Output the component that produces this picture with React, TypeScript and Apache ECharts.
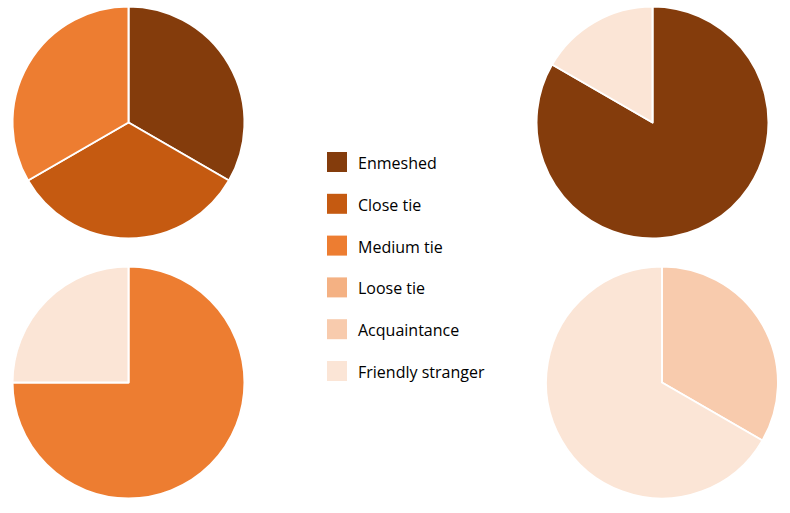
import React, { useEffect, useRef } from "react";
import * as echarts from "echarts";

const categories = ["Enmeshed", "Close tie", "Medium tie", "Loose tie", "Acquaintance", "Friendly stranger"];
const colors = ["#843C0C", "#C55A11", "#ED7D31", "#F4B183", "#F8CBAD", "#FBE5D6"];

// Each pie: values per category (in category order)
const pieTopLeft = [1, 1, 1, 0, 0, 0];
const pieTopRight = [5, 0, 0, 0, 0, 1];
const pieBottomLeft = [0, 0, 3, 0, 0, 1];
const pieBottomRight = [0, 0, 0, 0, 1, 2];

export default function App() {
  const ref = useRef<HTMLDivElement>(null);
  useEffect(() => {
    if (!ref.current) return;
    const chart = echarts.init(ref.current, null, { renderer: "svg" });
    const makePie = (vals: number[], center: [number, number]) => ({
      type: "pie",
      center,
      radius: 116,
      startAngle: 90,
      clockwise: true,
      label: { show: false },
      labelLine: { show: false },
      emphasis: { disabled: true },
      silent: true,
      itemStyle: { borderColor: "#ffffff", borderWidth: 2 },
      data: categories
        .map((c, i) => ({ name: c, value: vals[i], itemStyle: { color: colors[i] } }))
        .filter((d) => d.value > 0),
    });
    const legendX = 327;
    const legendY0 = 162;
    const legendStep = 41.8;
    const legendItems: any[] = [];
    categories.forEach((c, i) => {
      const y = legendY0 + i * legendStep;
      legendItems.push({
        type: "rect",
        shape: { x: legendX, y: y - 10, width: 20, height: 20 },
        style: { fill: colors[i] },
      });
      legendItems.push({
        type: "text",
        x: 358,
        y: y + 1,
        style: {
          text: c,
          fill: "#000000",
          font: '16px "Open Sans"',
          textVerticalAlign: "middle",
          textAlign: "left",
        },
      });
    });
    chart.setOption({
      animation: false,
      backgroundColor: "#ffffff",
      series: [
        makePie(pieTopLeft, [128.5, 122.5]),
        makePie(pieTopRight, [652.5, 122.5]),
        makePie(pieBottomLeft, [128.5, 382.5]),
        makePie(pieBottomRight, [662, 382.5]),
      ],
      graphic: legendItems,
    });
    return () => chart.dispose();
  }, []);
  return <div ref={ref} style={{ position: "fixed", left: 0, top: 0, width: 790, height: 513 }} />;
}
